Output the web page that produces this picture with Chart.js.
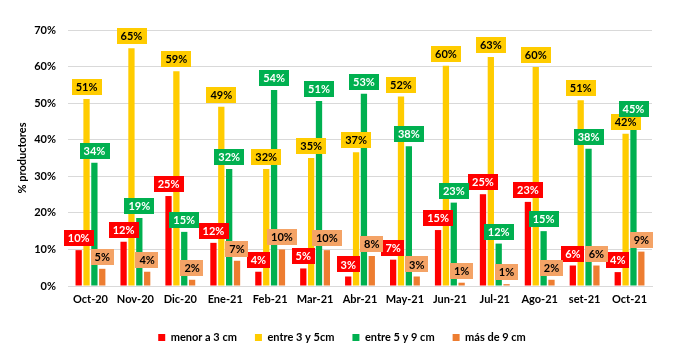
<!DOCTYPE html>
<html>
<head>
<meta charset="utf-8">
<script src="https://cdn.jsdelivr.net/npm/chart.js@4.4.1/dist/chart.umd.min.js"></script>
<style>
    html, body { margin: 0; padding: 0; background: #fff; }
    #wrap { width: 678px; height: 359px; }
</style>
</head>
<body>
<div id="wrap"><canvas id="myChart" width="678" height="359"></canvas></div>
<script>
// months on the x axis
const months = ['Oct-20', 'Nov-20', 'Dic-20', 'Ene-21', 'Feb-21', 'Mar-21', 'Abr-21',
    'May-21', 'Jun-21', 'Jul-21', 'Ago-21', 'set-21', 'Oct-21'];

// % of producers per size class
const menor3 = [9.8, 12.1, 24.6, 11.8, 3.9, 4.8, 2.6, 7.2, 15.3, 25.1, 23.0, 5.6, 3.8];
const entre3y5 = [51.1, 65.0, 58.7, 49.0, 32.0, 35.0, 36.6, 51.8, 60.2, 62.6, 59.9, 50.8, 41.6];
const entre5y9 = [33.7, 18.6, 14.8, 32.0, 53.6, 50.6, 52.6, 38.2, 22.8, 11.6, 15.0, 37.5, 45.0];
const mas9 = [4.7, 3.9, 1.7, 6.9, 10.0, 9.8, 8.2, 2.6, 0.9, 0.5, 1.7, 5.6, 9.4];

const yTicks = [0, 10, 20, 30, 40, 50, 60, 70];

const seriesNames = ['menor a 3 cm', 'entre 3 y 5cm', 'entre 5 y 9 cm', 'más de 9 cm'];

const FONT = 'Lato, "Liberation Sans", sans-serif';

// labels above each bar, in a coloured box like the excel one
const boxLabels = {
    id: 'boxLabels',
    afterLayout(chart) {
        // legend sits a bit right of centre in the original
        chart.legend.left += 16;
        chart.legend.right += 16;
    },
    afterDatasetsDraw(chart) {
        const ctx = chart.ctx;
        ctx.save();
        ctx.font = 'bold 11px ' + FONT;
        ctx.textAlign = 'center';
        ctx.textBaseline = 'middle';
        chart.data.datasets.forEach((ds, i) => {
            const meta = chart.getDatasetMeta(i);
            meta.data.forEach((bar, j) => {
                const txt = Math.round(ds.data[j]) + '%';
                const w = ctx.measureText(txt).width + 8;
                const h = 16;
                const bottom = bar.y - 4;
                ctx.fillStyle = ds.labelBg;
                ctx.fillRect(Math.round(bar.x - w / 2), Math.round(bottom - h), Math.round(w), h);
                ctx.fillStyle = ds.labelColor;
                ctx.fillText(txt, bar.x, bottom - h / 2 + 0.5);
            });
        });
        ctx.restore();
    }
};

const ctx = document.getElementById('myChart').getContext('2d');
const myChart = new Chart(ctx, {
    type: 'bar',
    data: {
        labels: months,
        datasets: [
            { label: seriesNames[0], data: menor3, backgroundColor: '#FF0000', labelBg: '#FF0000', labelColor: '#FFFFFF' },
            { label: seriesNames[1], data: entre3y5, backgroundColor: '#FFCC00', labelBg: '#FFCC00', labelColor: '#000000' },
            { label: seriesNames[2], data: entre5y9, backgroundColor: '#00B050', labelBg: '#00B050', labelColor: '#FFFFFF' },
            { label: seriesNames[3], data: mas9, backgroundColor: '#ED7D31', labelBg: '#F4A366', labelColor: '#000000' }
        ]
    },
    options: {
        responsive: false,
        animation: false,
        categoryPercentage: 0.7,
        barPercentage: 0.8,
        layout: { padding: { top: 30, right: 26, bottom: 6, left: 0 } },
        plugins: {
            tooltip: { enabled: false },
            legend: {
                position: 'bottom',
                labels: {
                    boxWidth: 7,
                    boxHeight: 7,
                    padding: 18,
                    color: '#000',
                    font: { family: FONT, size: 11, weight: 'bold' }
                }
            }
        },
        scales: {
            x: {
                grid: { display: false, drawTicks: false },
                border: { display: true, color: '#D9D9D9' },
                ticks: { color: '#000', padding: 7, font: { family: FONT, size: 11, weight: 'bold' } },
                afterFit: (s) => { s.height = 28; }
            },
            y: {
                min: 0,
                max: 70,
                afterBuildTicks: (s) => { s.ticks = yTicks.map(v => ({ value: v })); },
                grid: { color: '#D9D9D9', drawTicks: false },
                border: { display: false },
                ticks: {
                    color: '#000',
                    padding: 12,
                    font: { family: FONT, size: 11, weight: 'bold' },
                    callback: (v) => v + '%'
                },
                title: {
                    display: true,
                    text: '% productores',
                    color: '#000',
                    padding: { top: 16, bottom: 0 },
                    font: { family: FONT, size: 11, weight: 'bold' }
                },
                afterFit: (s) => { s.width = 68; }
            }
        }
    },
    plugins: [boxLabels]
});
</script>
</body>
</html>
